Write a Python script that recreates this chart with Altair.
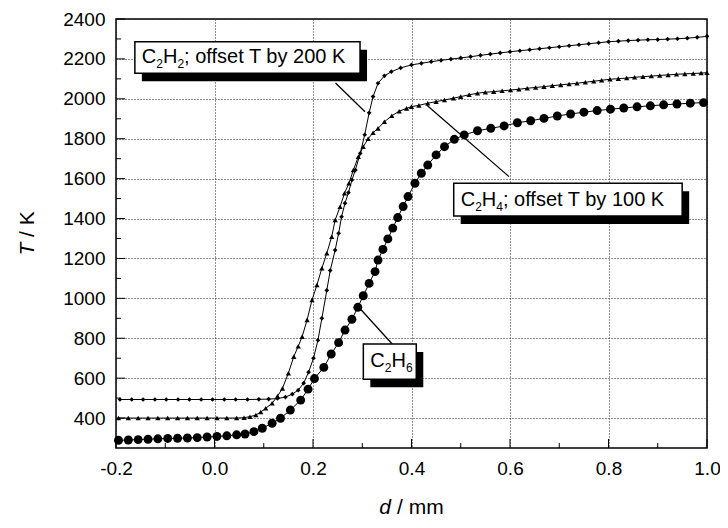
import altair as alt
import pandas as pd

# ---------------- data ----------------
# C2H6 (large filled circles)
c2h6_d = [-0.195, -0.175, -0.155, -0.135, -0.115, -0.095, -0.075, -0.055, -0.035, -0.015,
          0.005, 0.025, 0.045, 0.062, 0.080, 0.097, 0.117, 0.134, 0.154, 0.175,
          0.190, 0.203, 0.222, 0.237, 0.252, 0.265, 0.279, 0.291, 0.302, 0.314,
          0.326, 0.332, 0.342, 0.352, 0.362, 0.372, 0.383, 0.393, 0.407, 0.420,
          0.433, 0.450, 0.467, 0.487, 0.507, 0.534, 0.561, 0.588, 0.615, 0.642,
          0.669, 0.696, 0.723, 0.750, 0.777, 0.804, 0.831, 0.858, 0.885, 0.912,
          0.939, 0.966, 0.993]
c2h6_T = [289, 290, 292, 294, 296, 298, 299, 300, 302, 305,
          308, 311, 316, 320, 332, 349, 374, 399, 440, 490,
          545, 598, 654, 721, 778, 841, 895, 955, 1013, 1075,
          1134, 1192, 1245, 1298, 1352, 1405, 1460, 1510, 1577, 1627,
          1668, 1719, 1760, 1797, 1819, 1840, 1852, 1864, 1880, 1890,
          1902, 1914, 1924, 1933, 1941, 1948, 1954, 1960, 1965, 1970,
          1974, 1978, 1981]

# C2H4, offset by 100 K (small triangles)
c2h4_d = [-0.195, -0.175, -0.155, -0.135, -0.115, -0.095, -0.075, -0.055, -0.035, -0.015,
          0.005, 0.025, 0.045, 0.060, 0.072, 0.084, 0.094, 0.104, 0.117, 0.128,
          0.138, 0.150, 0.161, 0.170, 0.178, 0.188, 0.198, 0.208, 0.218, 0.228,
          0.238, 0.245, 0.255, 0.264, 0.273, 0.282, 0.292, 0.302, 0.312, 0.322,
          0.332, 0.345, 0.360, 0.375, 0.390, 0.400, 0.415, 0.433, 0.450, 0.467,
          0.485, 0.500, 0.517, 0.534, 0.550, 0.567, 0.584, 0.601, 0.618, 0.635,
          0.652, 0.669, 0.686, 0.703, 0.720, 0.736, 0.753, 0.770, 0.786, 0.803,
          0.820, 0.837, 0.853, 0.870, 0.887, 0.904, 0.921, 0.938, 0.955, 0.972,
          0.988, 1.000]
c2h4_T = [400, 400, 400, 400, 400, 400, 400, 400, 400, 400,
          400, 400, 400, 402, 407, 415, 430, 449, 474, 510,
          549, 625, 708, 760, 808, 892, 992, 1067, 1151, 1226,
          1309, 1393, 1459, 1527, 1577, 1643, 1710, 1760, 1800, 1830,
          1852, 1885, 1915, 1938, 1952, 1961, 1967, 1978, 1986, 1994,
          2003, 2011, 2020, 2028, 2033, 2036, 2040, 2044, 2048, 2053,
          2057, 2061, 2066, 2070, 2074, 2078, 2083, 2088, 2093, 2098,
          2101, 2104, 2108, 2111, 2114, 2117, 2120, 2123, 2125, 2127,
          2129, 2131]

# C2H2, offset by 200 K (small diamonds)
c2h2_d = [-0.192, -0.168, -0.145, -0.121, -0.098, -0.074, -0.051, -0.027, -0.004, 0.020,
          0.043, 0.067, 0.090, 0.110, 0.128, 0.144, 0.158, 0.170, 0.181, 0.191,
          0.201, 0.210, 0.218, 0.228, 0.235, 0.245, 0.252, 0.258, 0.265, 0.272,
          0.279, 0.286, 0.296, 0.305, 0.314, 0.322, 0.332, 0.345, 0.359, 0.378,
          0.400, 0.420, 0.440, 0.460, 0.480, 0.500, 0.520, 0.540, 0.560, 0.580,
          0.600, 0.620, 0.640, 0.660, 0.680, 0.700, 0.720, 0.740, 0.760, 0.780,
          0.800, 0.820, 0.840, 0.860, 0.880, 0.900, 0.920, 0.940, 0.960, 0.980,
          1.000]
c2h2_T = [493, 493, 493, 493, 493, 493, 493, 493, 493, 493,
          493, 493, 494, 495, 498, 505, 520, 540, 575, 630,
          700, 790, 900, 1040, 1140, 1242, 1326, 1409, 1477, 1530,
          1593, 1643, 1727, 1820, 1930, 2011, 2078, 2115, 2136, 2155,
          2170, 2178, 2186, 2193, 2199, 2205, 2211, 2218, 2224, 2230,
          2236, 2241, 2246, 2251, 2256, 2261, 2266, 2271, 2276, 2281,
          2286, 2289, 2292, 2294, 2296, 2297, 2299, 2301, 2304, 2308,
          2313]

# axis ticks
x_major = [-0.2, 0.0, 0.2, 0.4, 0.6, 0.8, 1.0]
x_minor = [-0.1, 0.1, 0.3, 0.5, 0.7, 0.9]
y_major = [400, 600, 800, 1000, 1200, 1400, 1600, 1800, 2000, 2200, 2400]
y_minor = [300, 500, 700, 900, 1100, 1300, 1500, 1700, 1900, 2100, 2300]

# annotation boxes (data coordinates) and labels
box_left = [-0.1617, 0.4857, 0.3022]
box_right = [0.2955, 0.9496, 0.4097]
box_bottom = [2128, 1413, 594]
box_top = [2286, 1577, 771]
box_labels = [["C", "2", "H", "2", "; offset T by 200 K"],
              ["C", "2", "H", "4", "; offset T by 100 K"],
              ["C", "2", "H", "6"]]
# leader lines
lead_d = [0.2457, 0.4307, 0.2921]
lead_T = [2079, 1969, 958]
lead_d2 = [0.3056, 0.598, 0.3607]
lead_T2 = [1935, 1610, 771]

# ---------------- chart ----------------
FONT = "Liberation Sans"
W, H = 591, 429

xs = alt.Scale(domain=[-0.2, 1.0], nice=False, zero=False)
ys = alt.Scale(domain=[250, 2400], nice=False, zero=False)

xaxis = alt.Axis(values=x_major, grid=True, gridDash=[1, 2], gridColor="#222222",
                 gridWidth=1, ticks=False, domain=False, labelFont=FONT,
                 labelFontSize=19, labelColor="black", labelPadding=11,
                 labelFlush=False, labelOverlap=False, title=None,
                 labelExpr="datum.value < 0 ? '-' + format(-datum.value, '.1f') : format(datum.value, '.1f')")
yaxis = alt.Axis(values=y_major, grid=True, gridDash=[1, 2], gridColor="#222222",
                 gridWidth=1, ticks=False, domain=False, labelFont=FONT,
                 labelFontSize=19, labelColor="black", labelPadding=11,
                 labelFlush=False, labelOverlap=False, format="d", title=None)

X = alt.X("d:Q", scale=xs, axis=xaxis)
Y = alt.Y("T:Q", scale=ys, axis=yaxis)


def series(d, T, shape, size):
    df = pd.DataFrame({"d": d, "T": T})
    base = alt.Chart(df).encode(x=X, y=Y)
    line = base.mark_line(color="black", strokeWidth=1)
    pts = base.mark_point(filled=True, shape=shape, size=size, color="black",
                          opacity=1, strokeWidth=0)
    return [line, pts]


layers = []

# inward ticks
layers.append(alt.Chart(pd.DataFrame({"d": x_major})).mark_rule(color="black", strokeWidth=1)
              .encode(x=X, y=alt.value(H), y2=alt.value(H - 9)))
layers.append(alt.Chart(pd.DataFrame({"d": x_minor})).mark_rule(color="black", strokeWidth=1)
              .encode(x=X, y=alt.value(H), y2=alt.value(H - 5)))
layers.append(alt.Chart(pd.DataFrame({"T": y_major})).mark_rule(color="black", strokeWidth=1)
              .encode(y=Y, x=alt.value(0), x2=alt.value(9)))
layers.append(alt.Chart(pd.DataFrame({"T": y_minor})).mark_rule(color="black", strokeWidth=1)
              .encode(y=Y, x=alt.value(0), x2=alt.value(5)))

layers += series(c2h6_d, c2h6_T, "circle", 80)
layers += series(c2h4_d, c2h4_T, "triangle-up", 28)
layers += series(c2h2_d, c2h2_T, "diamond", 22)

# leader lines
lead_df = pd.DataFrame({"d": lead_d, "T": lead_T, "d2": lead_d2, "T2": lead_T2})
layers.append(alt.Chart(lead_df).mark_rule(color="black", strokeWidth=1.3)
              .encode(x=X, y=Y, x2="d2:Q", y2="T2:Q"))

# boxes with drop shadow
box_df = pd.DataFrame({"d": box_left, "d2": box_right, "T": box_bottom, "T2": box_top})
layers.append(alt.Chart(box_df).mark_rect(color="black", xOffset=7, yOffset=8,
                                          x2Offset=7, y2Offset=8)
              .encode(x=X, x2="d2:Q", y=Y, y2="T2:Q"))
layers.append(alt.Chart(box_df).mark_rect(fill="white", stroke="black", strokeWidth=1.5)
              .encode(x=X, x2="d2:Q", y=Y, y2="T2:Q"))

# box texts with subscripts
WIDTH = {"C": 0.722, "H": 0.722, "2": 0.556, "4": 0.556, "6": 0.556}
MAIN, SUB = 20, 12
base_dy = [-10, -10, -12]
for i, pieces in enumerate(box_labels):
    anchor = pd.DataFrame({"d": [box_left[i]], "T": [box_bottom[i]]})
    dx = 7.0
    for j, p in enumerate(pieces):
        is_sub = (j in (1, 3))
        fs = SUB if is_sub else MAIN
        dy = base_dy[i] + (5 if is_sub else 0)
        layers.append(alt.Chart(anchor).mark_text(text=p, align="left", baseline="alphabetic",
                                                  dx=dx, dy=dy, font=FONT, fontSize=fs,
                                                  color="black")
                      .encode(x=X, y=Y))
        if p in WIDTH:
            dx += WIDTH[p] * fs

# axis titles (italic variable names)
one = pd.DataFrame({"a": [0]})
TF = 21
layers.append(alt.Chart(one).mark_text(text="d", align="right", baseline="alphabetic",
                                       font=FONT, fontSize=TF, fontStyle="italic", color="black")
              .encode(x=alt.value(275), y=alt.value(H + 66)))
layers.append(alt.Chart(one).mark_text(text="/ mm", align="left", baseline="alphabetic",
                                       font=FONT, fontSize=TF, color="black")
              .encode(x=alt.value(281), y=alt.value(H + 66)))
layers.append(alt.Chart(one).mark_text(text="T", align="left", baseline="middle", angle=270,
                                       font=FONT, fontSize=TF, fontStyle="italic", color="black")
              .encode(x=alt.value(-88), y=alt.value(236.5)))
layers.append(alt.Chart(one).mark_text(text="/ K", align="left", baseline="middle", angle=270,
                                       font=FONT, fontSize=TF, color="black")
              .encode(x=alt.value(-88), y=alt.value(218)))

chart = alt.layer(*layers).properties(
    width=W, height=H,
    autosize=alt.AutoSizeParams(type="none"),
    padding={"left": 108, "top": 11, "right": 13, "bottom": 72},
    background="white",
).configure_view(stroke="black", strokeWidth=1.5)

chart.save("out.html", embed_options={"renderer": "svg", "actions": False})
